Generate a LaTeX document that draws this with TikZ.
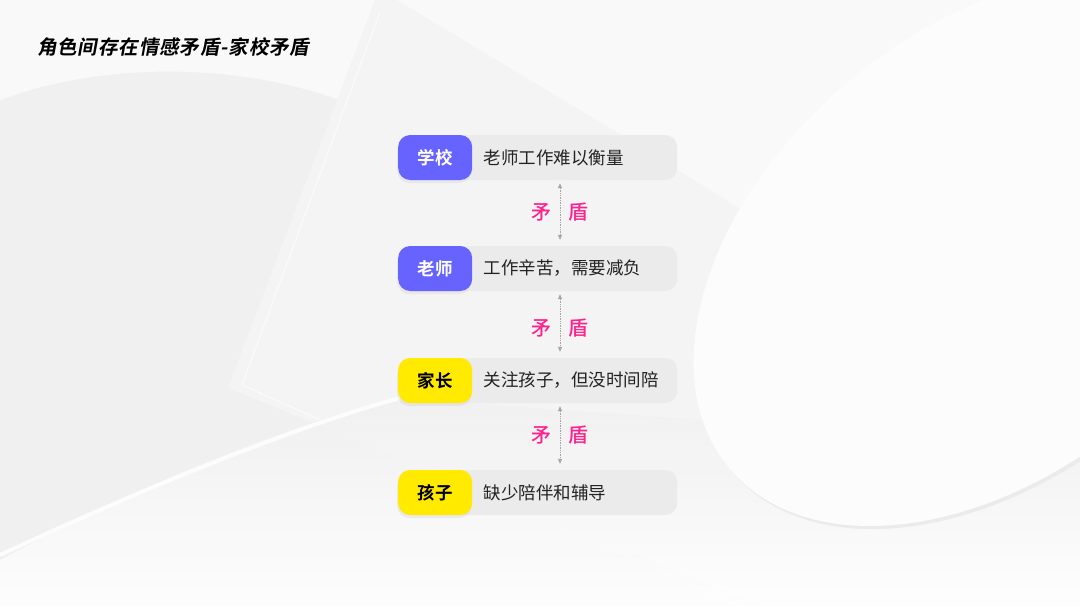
\documentclass[tikz,border=0pt]{standalone}
\usepackage{fontspec}
\setmainfont{Noto Sans CJK SC}
\newfontfamily\titlefont{Noto Sans CJK SC}[UprightFont=* Bold, FakeSlant=0.18, LetterSpace=4]
\newfontfamily\boldcjk{Noto Sans CJK SC}[UprightFont=* Bold]
\newfontfamily\medcjk{Noto Sans CJK SC}[UprightFont=* Medium]
\usetikzlibrary{positioning}
\usetikzlibrary{arrows.meta}
\usetikzlibrary{shadows}

\definecolor{bggray}{RGB}{240,240,240}
\definecolor{planegray}{RGB}{244,244,244}
\definecolor{lightbg}{RGB}{249,249,249}
\definecolor{bargray}{RGB}{235,235,235}
\definecolor{tagblue}{RGB}{102,99,255}
\definecolor{tagyellow}{RGB}{255,234,0}
\definecolor{clash}{RGB}{255,34,140}
\definecolor{txt}{RGB}{34,34,34}

\tikzset{bar/.style={fill=bargray, rounded corners=12pt, minimum width=279pt, minimum height=45pt, inner sep=0pt, anchor=west}}
\tikzset{tag/.style={rounded corners=12pt, minimum width=74pt, minimum height=45pt, inner sep=0pt, anchor=west, font=\boldcjk\fontsize{17.5}{17.5}\selectfont, drop shadow={shadow xshift=-1pt, shadow yshift=-3pt, opacity=0.10}}}
\tikzset{desc/.style={inner sep=0pt, text=txt, font=\fontsize{17.5}{17.5}\selectfont}}
\tikzset{clashtxt/.style={inner sep=0pt, text=clash, font=\medcjk\fontsize{20}{20}\selectfont}}
\tikzset{conn/.style={{Triangle[width=4pt,length=5pt]}-{Triangle[width=4pt,length=5pt]}, densely dotted, gray!70, line width=0.7pt}}

\begin{document}
\begin{tikzpicture}[x=1pt, y=-1pt]
\useasboundingbox (0,0) rectangle (1080,606);

% background
\fill[bggray] (0,0) rectangle (1080,606);
\fill[lightbg] (0,0) -- (0,100) .. controls (120,55) and (300,60) .. (420,140) -- (430,0) -- cycle;
\fill[planegray] (375,0) -- (228,388) -- (760,606) -- (1080,606) -- (1080,0) -- cycle;
\fill[lightbg] (397,0) -- (630,140) -- (1080,420) -- (1080,0) -- cycle;
\draw[white, line width=1.2pt, opacity=0.6] (380,12) -- (242,385) -- (740,606);
\shade[top color=bggray, bottom color=white, opacity=0.9] (0,560) .. controls (150,480) and (300,420) .. (400,398) -- (700,420) -- (1080,470) -- (1080,606) -- (0,606) -- cycle;
\draw[white, line width=4pt, opacity=0.8] (0,555) .. controls (150,485) and (300,425) .. (400,398);
\fill[black!8, rotate around={40:(990,250)}] (990,254) ellipse (340pt and 220pt);
\fill[white!99!black, rotate around={40:(990,250)}] (990,250) ellipse (340pt and 220pt);

\node[font=\titlefont\fontsize{19.6}{19.6}\selectfont, anchor=west, inner sep=0pt] (title) at (37,47) {角色间存在情感矛盾-家校矛盾};

% rows
\node[bar] (r1) at (398,157.5) {};
\node[bar] (r2) at (398,268.5) {};
\node[bar] (r3) at (398,380.5) {};
\node[bar] (r4) at (398,492.5) {};

\node[tag, fill=tagblue, text=white] (t1) at (r1.west) {学校};
\node[tag, fill=tagblue, text=white] (t2) at (r2.west) {老师};
\node[tag, fill=tagyellow, text=black] (t3) at (r3.west) {家长};
\node[tag, fill=tagyellow, text=black] (t4) at (r4.west) {孩子};

\node[desc, anchor=west, right=11pt of t1] (d1) {老师工作难以衡量};
\node[desc, anchor=west, right=11pt of t2] (d2) {工作辛苦，需要减负};
\node[desc, anchor=west, right=11pt of t3] (d3) {关注孩子，但没时间陪};
\node[desc, anchor=west, right=11pt of t4] (d4) {缺少陪伴和辅导};

% clashes
\coordinate (c1) at (560,212);
\coordinate (c2) at (560,327);
\coordinate (c3) at (560,435);

\node[clashtxt] (m1) at (541,212) {矛};
\node[clashtxt] (s1) at (578,212) {盾};
\node[clashtxt] (m2) at (541,328) {矛};
\node[clashtxt] (s2) at (578,328) {盾};
\node[clashtxt] (m3) at (541,435) {矛};
\node[clashtxt] (s3) at (578,435) {盾};

\draw[conn, shorten <=3pt, shorten >=6pt] (r1.south -| c1) -- (r2.north -| c1);
\draw[conn, shorten <=3pt, shorten >=6pt] (r2.south -| c2) -- (r3.north -| c2);
\draw[conn, shorten <=3pt, shorten >=6pt] (r3.south -| c3) -- (r4.north -| c3);

\end{tikzpicture}
\end{document}
